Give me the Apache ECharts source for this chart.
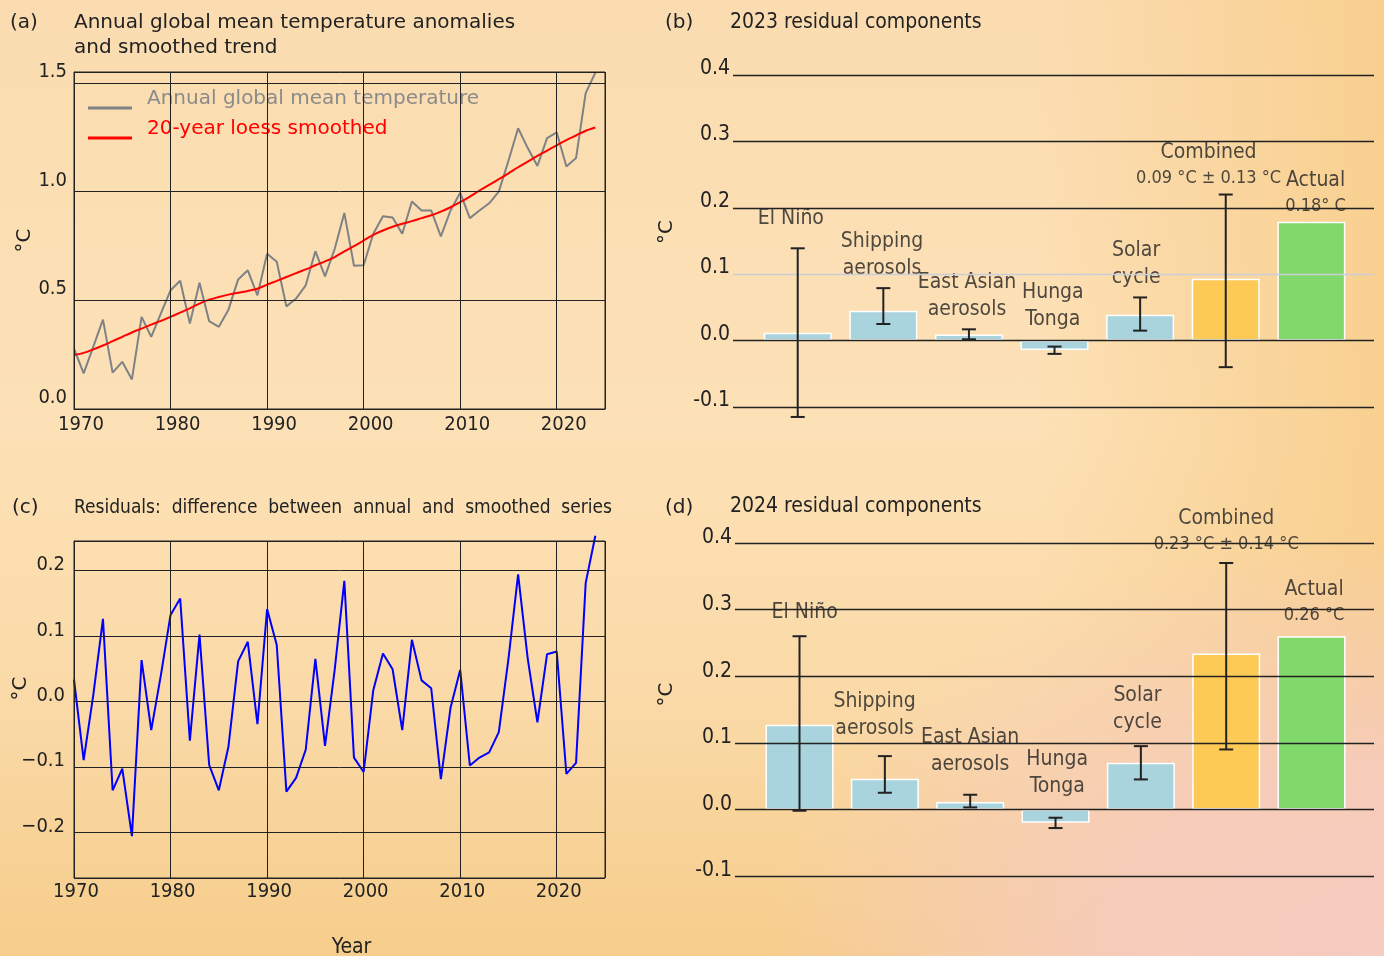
<!DOCTYPE html>
<html>
<head>
<meta charset="utf-8">
<script src="https://cdn.jsdelivr.net/npm/echarts@6/dist/echarts.min.js"></script>
<style>
html,body{margin:0;padding:0;}
body{
  width:1384px;height:956px;overflow:hidden;
  background:
    radial-gradient(ellipse 620px 420px at 100% 100%, rgba(246,203,192,1) 0%, rgba(246,203,192,0.85) 45%, rgba(246,203,192,0) 100%),
    linear-gradient(to right, rgba(248,206,140,0) 75%, rgba(248,206,140,0.9) 100%),
    linear-gradient(to bottom, #fbdcb1 0%, #fde1b6 45%, #fad9a6 75%, #f6cd8b 100%);
}
#chart{width:1384px;height:956px;}
</style>
</head>
<body>
<div id="chart"></div>
<script>
// ---------------- DATA ----------------
const years = [];
for (let y = 1970; y <= 2024; y++) years.push(y);

const annualTemp = [
  0.278, 0.164, 0.287, 0.411, 0.167, 0.217, 0.136, 0.424, 0.332, 0.440,
  0.546, 0.590, 0.393, 0.581, 0.404, 0.378, 0.457, 0.596, 0.638, 0.523,
  0.714, 0.677, 0.472, 0.508, 0.569, 0.726, 0.610, 0.736, 0.902, 0.659,
  0.661, 0.806, 0.887, 0.881, 0.806, 0.954, 0.913, 0.913, 0.794, 0.913,
  0.995, 0.878, 0.913, 0.946, 1.000, 1.142, 1.291, 1.200, 1.118, 1.246,
  1.272, 1.115, 1.154, 1.453, 1.547
];
const loessSmoothed = [
  0.248, 0.258, 0.274, 0.292, 0.312, 0.332, 0.352, 0.370, 0.388, 0.405,
  0.424, 0.443, 0.463, 0.485, 0.503, 0.515, 0.526, 0.535, 0.543, 0.553,
  0.572, 0.589, 0.607, 0.625, 0.642, 0.661, 0.679, 0.699, 0.725, 0.749,
  0.775, 0.801, 0.821, 0.838, 0.852, 0.864, 0.878, 0.891, 0.908, 0.928,
  0.951, 0.977, 1.005, 1.031, 1.057, 1.084, 1.112, 1.138, 1.164, 1.188,
  1.213, 1.237, 1.258, 1.280, 1.295
];
const residuals = [
  0.033, -0.090, 0.010, 0.126, -0.136, -0.103, -0.206, 0.063, -0.044, 0.040,
  0.132, 0.157, -0.060, 0.102, -0.097, -0.136, -0.069, 0.061, 0.091, -0.035,
  0.141, 0.086, -0.138, -0.117, -0.074, 0.065, -0.068, 0.048, 0.184, -0.086,
  -0.108, 0.017, 0.073, 0.049, -0.044, 0.094, 0.032, 0.020, -0.119, -0.010,
  0.048, -0.098, -0.086, -0.078, -0.047, 0.065, 0.194, 0.065, -0.032, 0.072,
  0.076, -0.111, -0.094, 0.181, 0.253
];

const components = ['El Niño', 'Shipping aerosols', 'East Asian aerosols', 'Hunga Tonga', 'Solar cycle', 'Combined', 'Actual'];

const values2023 = [0.012, 0.045, 0.009, -0.014, 0.039, 0.093, 0.179];
const errLow2023  = [-0.115, 0.025, 0.002, -0.020, 0.015, -0.040, null];
const errHigh2023 = [0.139, 0.079, 0.017, -0.009, 0.065, 0.220, null];
const labels2023 = ['El Niño', 'Shipping\naerosols', 'East Asian\naerosols', 'Hunga\nTonga', 'Solar\ncycle', 'Combined', 'Actual'];
const subLabels2023 = ['', '', '', '', '', '0.09 °C ± 0.13 °C', '0.18° C'];

const values2024 = [0.127, 0.046, 0.011, -0.020, 0.070, 0.234, 0.260];
const errLow2024  = [-0.002, 0.025, 0.003, -0.028, 0.045, 0.090, null];
const errHigh2024 = [0.260, 0.080, 0.022, -0.0125, 0.095, 0.370, null];
const labels2024 = ['El Niño', 'Shipping\naerosols', 'East Asian\naerosols', 'Hunga\nTonga', 'Solar\ncycle', 'Combined', 'Actual'];
const subLabels2024 = ['', '', '', '', '', '0.23 °C ± 0.14 °C', '0.26 °C'];

// ---------------- STYLE / LAYOUT ----------------
const FONT = '"DejaVu Sans", Verdana, sans-serif';
const FONTC = '"DejaVu Sans Condensed", "DejaVu Sans", sans-serif';
const TXT = '#222';
const barColors = ['#a9d3dd', '#a9d3dd', '#a9d3dd', '#a9d3dd', '#a9d3dd', '#fcca55', '#80d96a'];
// label anchors (in axis units: [category offset, °C])
const labelPos2023 = [[-0.08, 0.184], [0.985, 0.129], [1.977, 0.067], [2.98, 0.052], [3.953, 0.115], [4.8, 0.265], [6.05, 0.222]];
const labelPos2024 = [[0.06, 0.296], [0.88, 0.142], [2.0, 0.088], [3.02, 0.054], [3.96, 0.151], [5.0, 0.418], [6.03, 0.311]];

function fmt1(v) {
  if (Math.abs(v * 10 - Math.round(v * 10)) > 1e-6) return '';
  const s = Math.abs(v).toFixed(1);
  return v < -1e-9 ? '\u2212' + s : s;
}
function fmtDec(v) { return (v % 10 === 0) ? String(v) : ''; }

function renderErr(params, api) {
  const x = api.value(0), lo = api.value(1), hi = api.value(2);
  const p1 = api.coord([x, hi]), p2 = api.coord([x, lo]);
  const hw = 7;
  const st = { stroke: '#222', lineWidth: 2 };
  return {
    type: 'group',
    children: [
      { type: 'line', shape: { x1: p1[0], y1: p1[1], x2: p2[0], y2: p2[1] }, style: st },
      { type: 'line', shape: { x1: p1[0] - hw, y1: p1[1], x2: p1[0] + hw, y2: p1[1] }, style: st },
      { type: 'line', shape: { x1: p2[0] - hw, y1: p2[1], x2: p2[0] + hw, y2: p2[1] }, style: st }
    ]
  };
}

function barData(values) {
  return values.map((v, i) => ({ value: [i, v], itemStyle: { color: barColors[i] } }));
}
function errData(lo, hi) {
  const out = [];
  lo.forEach((l, i) => { if (l != null) out.push([i, l, hi[i]]); });
  return out;
}
function labelFormatter(main, sub) {
  return p => {
    const i = p.dataIndex;
    return sub[i] ? '{m|' + main[i] + '}\n{s|' + sub[i] + '}' : '{m|' + main[i].split('\n').join('}\n{m|') + '}';
  };
}
const labelRich = {
  m: { fontFamily: FONTC, fontSize: 21, lineHeight: 27, color: TXT, align: 'center' },
  s: { fontFamily: FONTC, fontSize: 18, lineHeight: 25, color: TXT, align: 'center' }
};

const titleStyle = { fontFamily: FONT, fontSize: 20, fontWeight: 'normal', color: TXT, lineHeight: 25 };
const titleStyleC = { fontFamily: FONTC, fontSize: 21, fontWeight: 'normal', color: TXT };

const compYAxis = (gi, gap, namePad, lh) => ({
  type: 'value', gridIndex: gi, min: -0.1, max: 0.4, interval: 0.1, z: 3,
  name: '°C', nameLocation: 'middle', nameRotate: 90, nameGap: gap, nameMoveOverlap: false,
  nameTextStyle: { fontFamily: FONT, fontSize: 20, color: TXT, padding: [0, 0, 0, namePad] },
  axisLine: { show: false }, axisTick: { show: false },
  axisLabel: { formatter: v => fmt1(v).replace('\u2212', '-'), fontFamily: FONTC, fontSize: 21, color: TXT, margin: 3,
    verticalAlign: 'bottom', lineHeight: lh },
  splitLine: { show: true, lineStyle: { color: gi === 1 ? ['#222', '#222', '#c9ced8', '#222', '#222', '#222'] : '#222', width: 1.4 } }
});
const compXAxis = (gi) => ({
  type: 'value', gridIndex: gi, min: -0.756, max: 6.732, show: false
});

const option = {
  animation: false,
  backgroundColor: 'transparent',
  title: [
    { text: '(a)', left: 10, top: 10, padding: 0, textStyle: titleStyle },
    { text: 'Annual global mean temperature anomalies\nand smoothed trend', left: 74, top: 10, padding: 0, textStyle: titleStyle },
    { text: '(b)', left: 665, top: 10, padding: 0, textStyle: titleStyle },
    { text: '2023 residual components', left: 730, top: 12, padding: 0, textStyle: titleStyleC },
    { text: '(c)', left: 12, top: 495, padding: 0, textStyle: titleStyle },
    { text: 'Residuals:  difference  between  annual  and  smoothed  series', left: 74, top: 499, padding: 0,
      textStyle: { fontFamily: FONTC, fontSize: 19, fontWeight: 'normal', color: TXT } },
    { text: '(d)', left: 665, top: 495, padding: 0, textStyle: titleStyle },
    { text: '2024 residual components', left: 730, top: 496, padding: 0, textStyle: titleStyleC }
  ],
  legend: {
    left: 88, top: 89, padding: 0, orient: 'vertical', itemWidth: 44, itemHeight: 3, itemGap: -8, icon: 'rect', z: 1,
    formatter: '{t|{name}}',
    textStyle: { fontFamily: FONT, fontSize: 20, rich: { t: { fontFamily: FONT, fontSize: 20, lineHeight: 22, padding: [0, 0, 18, 10] } } },
    data: [
      { name: 'Annual global mean temperature', textStyle: { color: '#8a8a8a' } },
      { name: '20-year loess smoothed', textStyle: { color: '#ff0000' } }
    ]
  },
  grid: [
    { left: 74, top: 72, width: 531, height: 337, show: true, borderColor: '#222', borderWidth: 1, backgroundColor: 'transparent', outerBoundsMode: 'none' },
    { left: 733, top: 75, right: 10, height: 332, outerBoundsMode: 'none' },
    { left: 74, top: 541, width: 531, height: 337, show: true, borderColor: '#222', borderWidth: 1, backgroundColor: 'transparent', outerBoundsMode: 'none' },
    { left: 735, top: 543, right: 10, height: 333, outerBoundsMode: 'none' }
  ],
  xAxis: [
    {
      type: 'value', gridIndex: 0, min: 1970, max: 2025, interval: 10, z: 5,
      axisLine: { show: true, lineStyle: { color: '#222' } }, axisTick: { show: false },
      axisLabel: { formatter: fmtDec, fontFamily: FONTC, fontSize: 20, color: TXT, margin: 6, padding: [0, 0, 0, 14] },
      splitLine: { show: true, lineStyle: { color: '#222', width: 1 } }
    },
    compXAxis(1),
    {
      type: 'value', gridIndex: 2, min: 1970, max: 2025, interval: 10, z: 5,
      name: 'Year', nameLocation: 'middle', nameGap: 59, nameMoveOverlap: false,
      nameTextStyle: { fontFamily: FONTC, fontSize: 21, color: TXT, padding: [0, 0, 0, 24] },
      axisLine: { show: true, lineStyle: { color: '#222' } },
      axisTick: { show: true, length: 4, lineStyle: { color: '#222' } },
      axisLabel: { formatter: fmtDec, fontFamily: FONTC, fontSize: 20, color: TXT, margin: 4, padding: [0, 0, 0, 4] },
      splitLine: { show: true, lineStyle: { color: '#222', width: 1 } }
    },
    compXAxis(3)
  ],
  yAxis: [
    {
      type: 'value', gridIndex: 0, min: 0, max: 1.55, interval: 0.5, z: 5,
      name: '°C', nameLocation: 'middle', nameRotate: 90, nameGap: 39, nameMoveOverlap: false,
      nameTextStyle: { fontFamily: FONT, fontSize: 20, color: TXT },
      axisLine: { show: true, lineStyle: { color: '#222' } }, axisTick: { show: false },
      axisLabel: { formatter: fmt1, fontFamily: FONTC, fontSize: 20, color: TXT, margin: 7, verticalAlign: 'bottom', lineHeight: 22 },
      splitLine: { show: true, lineStyle: { color: '#222', width: 1 } }
    },
    compYAxis(1, 56, 18, 13),
    {
      type: 'value', gridIndex: 2, min: -0.27, max: 0.245, splitNumber: 5, z: 5,
      name: '°C', nameLocation: 'middle', nameRotate: 90, nameGap: 43, nameMoveOverlap: false,
      nameTextStyle: { fontFamily: FONT, fontSize: 20, color: TXT, padding: [0, 0, 0, 42] },
      axisLine: { show: true, lineStyle: { color: '#222' } }, axisTick: { show: false },
      axisLabel: { formatter: fmt1, fontFamily: FONTC, fontSize: 20, color: TXT, margin: 9, verticalAlign: 'bottom', lineHeight: 11 },
      splitLine: { show: true, lineStyle: { color: '#222', width: 1 } }
    },
    compYAxis(3, 58, 30, 10)
  ],
  series: [
    {
      name: 'Annual global mean temperature', type: 'line', xAxisIndex: 0, yAxisIndex: 0,
      data: years.map((y, i) => [y, annualTemp[i]]), showSymbol: false, clip: false,
      lineStyle: { color: '#7f8285', width: 2 }, itemStyle: { color: '#7f8285' }
    },
    {
      name: '20-year loess smoothed', type: 'line', xAxisIndex: 0, yAxisIndex: 0, smooth: 0.3,
      data: years.map((y, i) => [y, loessSmoothed[i]]), showSymbol: false,
      lineStyle: { color: '#ff0000', width: 2 }, itemStyle: { color: '#ff0000' }
    },
    {
      name: 'Residuals', type: 'line', xAxisIndex: 2, yAxisIndex: 2,
      data: years.map((y, i) => [y, residuals[i]]), showSymbol: false, clip: false,
      lineStyle: { color: '#0000ff', width: 2 }
    },
    // 2023
    { type: 'bar', xAxisIndex: 1, yAxisIndex: 1, barWidth: 68, z: 2, data: barData(values2023),
      itemStyle: { borderColor: '#ffffff', borderWidth: 1.5 } },
    { type: 'custom', xAxisIndex: 1, yAxisIndex: 1, z: 6, renderItem: renderErr, data: errData(errLow2023, errHigh2023), clip: false },
    { type: 'scatter', xAxisIndex: 1, yAxisIndex: 1, z: 2, symbolSize: 0, silent: true, clip: false,
      data: labelPos2023,
      label: { show: true, position: 'inside', formatter: labelFormatter(labels2023, subLabels2023), rich: labelRich,
        align: 'center', verticalAlign: 'middle' } },
    // 2024
    { type: 'bar', xAxisIndex: 3, yAxisIndex: 3, barWidth: 68, z: 2, data: barData(values2024),
      itemStyle: { borderColor: '#ffffff', borderWidth: 1.5 } },
    { type: 'custom', xAxisIndex: 3, yAxisIndex: 3, z: 6, renderItem: renderErr, data: errData(errLow2024, errHigh2024), clip: false },
    { type: 'scatter', xAxisIndex: 3, yAxisIndex: 3, z: 2, symbolSize: 0, silent: true, clip: false,
      data: labelPos2024,
      label: { show: true, position: 'inside', formatter: labelFormatter(labels2024, subLabels2024), rich: labelRich,
        align: 'center', verticalAlign: 'middle' } }
  ]
};

const chart = echarts.init(document.getElementById('chart'), null, { renderer: 'canvas' });
chart.setOption(option);
</script>
</body>
</html>
